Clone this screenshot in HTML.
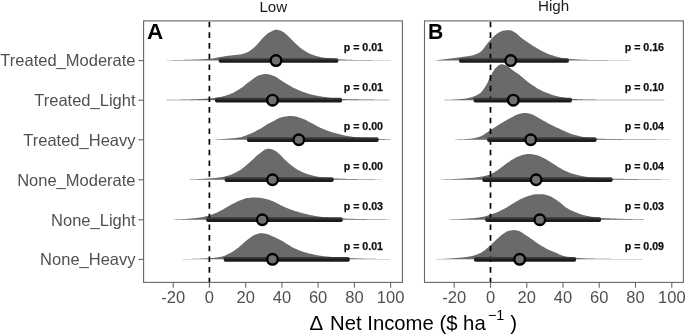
<!DOCTYPE html>
<html><head><meta charset="utf-8"><title>Net Income</title>
<style>html,body{margin:0;padding:0;background:#fff}svg{display:block;filter:grayscale(1)}text{font-family:"Liberation Sans",sans-serif}</style></head><body>
<svg width="685" height="335" viewBox="0 0 685 335">
<rect width="685" height="335" fill="#fff"/>
<defs><linearGradient id="bg" x1="0" y1="0" x2="0" y2="1"><stop offset="0" stop-color="#3e3e3e"/><stop offset="0.4" stop-color="#2e2e2e"/><stop offset="0.55" stop-color="#1b1b1b"/><stop offset="1" stop-color="#1b1b1b"/></linearGradient></defs>
<text x="273.3" y="12.4" font-size="15.15" text-anchor="middle" fill="#1a1a1a">Low</text>
<text x="553.6" y="10.6" font-size="15.15" text-anchor="middle" fill="#1a1a1a">High</text>
<clipPath id="cA"><rect x="143.6" y="20.9" width="258.8" height="261.5"/></clipPath>
<g clip-path="url(#cA)">
<path d="M166.3 60.55 L166.3 60.20 L167.3 60.19 L168.3 60.18 L169.3 60.17 L170.3 60.16 L171.3 60.14 L172.3 60.13 L173.3 60.11 L174.3 60.09 L175.3 60.07 L176.3 60.05 L177.3 60.03 L178.3 60.01 L179.3 59.99 L180.3 59.96 L181.3 59.94 L182.3 59.91 L183.3 59.89 L184.3 59.86 L185.3 59.83 L186.3 59.81 L187.3 59.78 L188.3 59.75 L189.3 59.72 L190.3 59.69 L191.3 59.66 L192.3 59.63 L193.3 59.60 L194.3 59.57 L195.3 59.54 L196.3 59.51 L197.3 59.47 L198.3 59.43 L199.3 59.39 L200.3 59.35 L201.3 59.31 L202.3 59.26 L203.3 59.21 L204.3 59.16 L205.3 59.11 L206.3 59.05 L207.3 58.98 L208.3 58.92 L209.3 58.85 L210.3 58.77 L211.3 58.66 L212.3 58.51 L213.3 58.34 L214.3 58.15 L215.3 57.95 L216.3 57.74 L217.3 57.53 L218.3 57.32 L219.3 57.13 L220.3 56.95 L221.3 56.79 L222.3 56.63 L223.3 56.48 L224.3 56.32 L225.3 56.18 L226.3 56.03 L227.3 55.89 L228.3 55.75 L229.3 55.62 L230.3 55.50 L231.3 55.39 L232.3 55.29 L233.3 55.20 L234.3 55.12 L235.3 55.03 L236.3 54.95 L237.3 54.85 L238.3 54.74 L239.3 54.61 L240.3 54.45 L241.3 54.25 L242.3 54.01 L243.3 53.72 L244.3 53.40 L245.3 53.04 L246.3 52.65 L247.3 52.22 L248.3 51.76 L249.3 51.20 L250.3 50.54 L251.3 49.81 L252.3 49.01 L253.3 48.16 L254.3 47.28 L255.3 46.38 L256.3 45.44 L257.3 44.37 L258.3 43.22 L259.3 42.03 L260.3 40.82 L261.3 39.64 L262.3 38.52 L263.3 37.50 L264.3 36.55 L265.3 35.61 L266.3 34.71 L267.3 33.87 L268.3 33.12 L269.3 32.48 L270.3 31.92 L271.3 31.43 L272.3 30.99 L273.3 30.57 L274.3 30.12 L275.3 29.77 L276.3 29.71 L277.3 29.84 L278.3 30.04 L279.3 30.27 L280.3 30.57 L281.3 30.95 L282.3 31.40 L283.3 31.94 L284.3 32.65 L285.3 33.48 L286.3 34.41 L287.3 35.37 L288.3 36.32 L289.3 37.26 L290.3 38.25 L291.3 39.28 L292.3 40.32 L293.3 41.33 L294.3 42.30 L295.3 43.24 L296.3 44.18 L297.3 45.12 L298.3 46.03 L299.3 46.91 L300.3 47.75 L301.3 48.53 L302.3 49.24 L303.3 49.91 L304.3 50.56 L305.3 51.19 L306.3 51.79 L307.3 52.37 L308.3 52.91 L309.3 53.41 L310.3 53.88 L311.3 54.30 L312.3 54.69 L313.3 55.06 L314.3 55.41 L315.3 55.74 L316.3 56.06 L317.3 56.35 L318.3 56.62 L319.3 56.87 L320.3 57.08 L321.3 57.27 L322.3 57.42 L323.3 57.56 L324.3 57.69 L325.3 57.81 L326.3 57.91 L327.3 58.01 L328.3 58.11 L329.3 58.21 L330.3 58.31 L331.3 58.41 L332.3 58.52 L333.3 58.64 L334.3 58.76 L335.3 58.88 L336.3 59.00 L337.3 59.11 L338.3 59.21 L339.3 59.29 L340.3 59.37 L341.3 59.42 L342.3 59.47 L343.3 59.52 L344.3 59.56 L345.3 59.61 L346.3 59.65 L347.3 59.69 L348.3 59.72 L349.3 59.76 L350.3 59.79 L351.3 59.82 L352.3 59.85 L353.3 59.88 L354.3 59.90 L355.3 59.92 L356.3 59.94 L357.3 59.96 L358.3 59.98 L359.3 59.99 L360.3 60.00 L361.3 60.01 L362.3 60.03 L363.3 60.04 L364.3 60.05 L365.3 60.06 L366.3 60.07 L367.3 60.08 L368.3 60.09 L369.3 60.09 L370.3 60.10 L371.3 60.11 L372.3 60.12 L373.3 60.13 L374.3 60.14 L375.3 60.14 L376.3 60.15 L377.3 60.16 L378.3 60.16 L379.3 60.17 L380.3 60.17 L381.3 60.18 L382.3 60.18 L383.3 60.19 L384.3 60.19 L385.3 60.19 L386.3 60.19 L387.3 60.20 L388.3 60.20 L389.3 60.20 L390.3 60.20 L390.3 60.55 Z" fill="#6a6a6a"/>
<path d="M166.3 100.15 L166.3 99.80 L167.3 99.80 L168.3 99.80 L169.3 99.79 L170.3 99.78 L171.3 99.78 L172.3 99.76 L173.3 99.75 L174.3 99.74 L175.3 99.72 L176.3 99.71 L177.3 99.69 L178.3 99.67 L179.3 99.65 L180.3 99.63 L181.3 99.61 L182.3 99.59 L183.3 99.57 L184.3 99.54 L185.3 99.52 L186.3 99.49 L187.3 99.47 L188.3 99.44 L189.3 99.42 L190.3 99.39 L191.3 99.37 L192.3 99.34 L193.3 99.31 L194.3 99.27 L195.3 99.24 L196.3 99.20 L197.3 99.16 L198.3 99.12 L199.3 99.07 L200.3 99.03 L201.3 98.98 L202.3 98.92 L203.3 98.87 L204.3 98.81 L205.3 98.75 L206.3 98.69 L207.3 98.62 L208.3 98.55 L209.3 98.48 L210.3 98.39 L211.3 98.30 L212.3 98.19 L213.3 98.07 L214.3 97.94 L215.3 97.80 L216.3 97.65 L217.3 97.49 L218.3 97.32 L219.3 97.14 L220.3 96.96 L221.3 96.76 L222.3 96.54 L223.3 96.29 L224.3 96.02 L225.3 95.73 L226.3 95.42 L227.3 95.09 L228.3 94.74 L229.3 94.38 L230.3 94.00 L231.3 93.60 L232.3 93.15 L233.3 92.67 L234.3 92.16 L235.3 91.62 L236.3 91.05 L237.3 90.46 L238.3 89.86 L239.3 89.24 L240.3 88.61 L241.3 87.93 L242.3 87.20 L243.3 86.42 L244.3 85.63 L245.3 84.81 L246.3 84.00 L247.3 83.20 L248.3 82.42 L249.3 81.68 L250.3 80.97 L251.3 80.24 L252.3 79.49 L253.3 78.73 L254.3 78.00 L255.3 77.30 L256.3 76.66 L257.3 76.08 L258.3 75.60 L259.3 75.23 L260.3 74.93 L261.3 74.64 L262.3 74.38 L263.3 74.18 L264.3 74.04 L265.3 74.00 L266.3 74.05 L267.3 74.16 L268.3 74.33 L269.3 74.55 L270.3 74.81 L271.3 75.09 L272.3 75.39 L273.3 75.70 L274.3 76.09 L275.3 76.58 L276.3 77.15 L277.3 77.77 L278.3 78.44 L279.3 79.14 L280.3 79.83 L281.3 80.51 L282.3 81.16 L283.3 81.76 L284.3 82.38 L285.3 83.00 L286.3 83.63 L287.3 84.25 L288.3 84.87 L289.3 85.47 L290.3 86.06 L291.3 86.62 L292.3 87.15 L293.3 87.65 L294.3 88.14 L295.3 88.62 L296.3 89.09 L297.3 89.54 L298.3 89.98 L299.3 90.40 L300.3 90.81 L301.3 91.20 L302.3 91.57 L303.3 91.94 L304.3 92.30 L305.3 92.65 L306.3 92.99 L307.3 93.32 L308.3 93.63 L309.3 93.93 L310.3 94.21 L311.3 94.48 L312.3 94.72 L313.3 94.95 L314.3 95.17 L315.3 95.38 L316.3 95.58 L317.3 95.77 L318.3 95.95 L319.3 96.13 L320.3 96.30 L321.3 96.47 L322.3 96.63 L323.3 96.79 L324.3 96.95 L325.3 97.10 L326.3 97.25 L327.3 97.39 L328.3 97.53 L329.3 97.66 L330.3 97.79 L331.3 97.91 L332.3 98.03 L333.3 98.16 L334.3 98.28 L335.3 98.40 L336.3 98.52 L337.3 98.63 L338.3 98.72 L339.3 98.80 L340.3 98.87 L341.3 98.92 L342.3 98.96 L343.3 99.00 L344.3 99.04 L345.3 99.07 L346.3 99.10 L347.3 99.13 L348.3 99.16 L349.3 99.18 L350.3 99.21 L351.3 99.23 L352.3 99.25 L353.3 99.27 L354.3 99.29 L355.3 99.31 L356.3 99.33 L357.3 99.35 L358.3 99.37 L359.3 99.39 L360.3 99.41 L361.3 99.42 L362.3 99.44 L363.3 99.46 L364.3 99.48 L365.3 99.49 L366.3 99.51 L367.3 99.53 L368.3 99.55 L369.3 99.56 L370.3 99.58 L371.3 99.59 L372.3 99.61 L373.3 99.62 L374.3 99.64 L375.3 99.65 L376.3 99.67 L377.3 99.68 L378.3 99.69 L379.3 99.71 L380.3 99.72 L381.3 99.73 L382.3 99.74 L383.3 99.75 L384.3 99.76 L385.3 99.77 L386.3 99.78 L387.3 99.79 L388.3 99.79 L389.3 99.80 L389.3 100.15 Z" fill="#6a6a6a"/>
<path d="M214.8 139.75 L214.8 139.40 L215.8 139.38 L216.8 139.35 L217.8 139.32 L218.8 139.27 L219.8 139.23 L220.8 139.18 L221.8 139.12 L222.8 139.06 L223.8 138.99 L224.8 138.92 L225.8 138.85 L226.8 138.78 L227.8 138.70 L228.8 138.62 L229.8 138.54 L230.8 138.46 L231.8 138.37 L232.8 138.28 L233.8 138.17 L234.8 138.06 L235.8 137.94 L236.8 137.81 L237.8 137.66 L238.8 137.51 L239.8 137.34 L240.8 137.14 L241.8 136.89 L242.8 136.61 L243.8 136.29 L244.8 135.94 L245.8 135.56 L246.8 135.17 L247.8 134.77 L248.8 134.36 L249.8 133.96 L250.8 133.54 L251.8 133.10 L252.8 132.63 L253.8 132.15 L254.8 131.65 L255.8 131.13 L256.8 130.60 L257.8 130.07 L258.8 129.53 L259.8 128.98 L260.8 128.40 L261.8 127.79 L262.8 127.16 L263.8 126.52 L264.8 125.88 L265.8 125.24 L266.8 124.62 L267.8 124.03 L268.8 123.46 L269.8 122.94 L270.8 122.45 L271.8 121.98 L272.8 121.50 L273.8 120.98 L274.8 120.42 L275.8 119.83 L276.8 119.25 L277.8 118.69 L278.8 118.20 L279.8 117.79 L280.8 117.50 L281.8 117.28 L282.8 117.06 L283.8 116.86 L284.8 116.67 L285.8 116.50 L286.8 116.35 L287.8 116.22 L288.8 116.12 L289.8 116.05 L290.8 116.01 L291.8 116.01 L292.8 116.07 L293.8 116.19 L294.8 116.36 L295.8 116.58 L296.8 116.84 L297.8 117.12 L298.8 117.43 L299.8 117.75 L300.8 118.08 L301.8 118.40 L302.8 118.74 L303.8 119.14 L304.8 119.59 L305.8 120.08 L306.8 120.60 L307.8 121.14 L308.8 121.70 L309.8 122.25 L310.8 122.78 L311.8 123.30 L312.8 123.81 L313.8 124.32 L314.8 124.85 L315.8 125.38 L316.8 125.90 L317.8 126.42 L318.8 126.92 L319.8 127.41 L320.8 127.88 L321.8 128.33 L322.8 128.77 L323.8 129.20 L324.8 129.62 L325.8 130.03 L326.8 130.43 L327.8 130.81 L328.8 131.18 L329.8 131.54 L330.8 131.87 L331.8 132.19 L332.8 132.49 L333.8 132.79 L334.8 133.07 L335.8 133.34 L336.8 133.61 L337.8 133.86 L338.8 134.11 L339.8 134.35 L340.8 134.58 L341.8 134.80 L342.8 135.02 L343.8 135.24 L344.8 135.45 L345.8 135.65 L346.8 135.85 L347.8 136.03 L348.8 136.21 L349.8 136.37 L350.8 136.53 L351.8 136.68 L352.8 136.82 L353.8 136.95 L354.8 137.08 L355.8 137.21 L356.8 137.32 L357.8 137.44 L358.8 137.55 L359.8 137.65 L360.8 137.75 L361.8 137.85 L362.8 137.94 L363.8 138.03 L364.8 138.12 L365.8 138.21 L366.8 138.29 L367.8 138.36 L368.8 138.43 L369.8 138.49 L370.8 138.54 L371.8 138.59 L372.8 138.63 L373.8 138.67 L374.8 138.71 L375.8 138.75 L376.8 138.79 L377.8 138.82 L378.8 138.86 L379.8 138.90 L380.8 138.95 L381.8 138.99 L382.8 139.03 L383.8 139.08 L384.8 139.12 L385.8 139.17 L386.8 139.21 L387.8 139.25 L388.8 139.30 L389.8 139.35 L390.8 139.39 L390.8 139.75 Z" fill="#6a6a6a"/>
<path d="M189.6 179.75 L189.6 179.40 L190.6 179.37 L191.6 179.34 L192.6 179.31 L193.6 179.27 L194.6 179.23 L195.6 179.19 L196.6 179.14 L197.6 179.10 L198.6 179.04 L199.6 178.99 L200.6 178.93 L201.6 178.88 L202.6 178.82 L203.6 178.76 L204.6 178.69 L205.6 178.63 L206.6 178.56 L207.6 178.50 L208.6 178.43 L209.6 178.36 L210.6 178.29 L211.6 178.21 L212.6 178.14 L213.6 178.06 L214.6 177.97 L215.6 177.88 L216.6 177.78 L217.6 177.67 L218.6 177.56 L219.6 177.43 L220.6 177.30 L221.6 177.15 L222.6 176.97 L223.6 176.77 L224.6 176.54 L225.6 176.29 L226.6 176.03 L227.6 175.74 L228.6 175.44 L229.6 175.13 L230.6 174.80 L231.6 174.44 L232.6 174.03 L233.6 173.59 L234.6 173.12 L235.6 172.61 L236.6 172.08 L237.6 171.52 L238.6 170.94 L239.6 170.34 L240.6 169.72 L241.6 169.04 L242.6 168.30 L243.6 167.51 L244.6 166.69 L245.6 165.85 L246.6 164.98 L247.6 164.11 L248.6 163.24 L249.6 162.38 L250.6 161.51 L251.6 160.59 L252.6 159.64 L253.6 158.68 L254.6 157.71 L255.6 156.76 L256.6 155.85 L257.6 154.98 L258.6 154.18 L259.6 153.46 L260.6 152.73 L261.6 151.97 L262.6 151.22 L263.6 150.50 L264.6 149.86 L265.6 149.33 L266.6 148.94 L267.6 148.73 L268.6 148.71 L269.6 148.83 L270.6 149.02 L271.6 149.28 L272.6 149.58 L273.6 149.92 L274.6 150.43 L275.6 151.08 L276.6 151.82 L277.6 152.62 L278.6 153.44 L279.6 154.29 L280.6 155.26 L281.6 156.30 L282.6 157.37 L283.6 158.42 L284.6 159.40 L285.6 160.34 L286.6 161.27 L287.6 162.20 L288.6 163.10 L289.6 163.98 L290.6 164.82 L291.6 165.61 L292.6 166.34 L293.6 167.05 L294.6 167.73 L295.6 168.40 L296.6 169.04 L297.6 169.65 L298.6 170.24 L299.6 170.79 L300.6 171.30 L301.6 171.78 L302.6 172.21 L303.6 172.63 L304.6 173.02 L305.6 173.39 L306.6 173.75 L307.6 174.08 L308.6 174.40 L309.6 174.70 L310.6 174.98 L311.6 175.25 L312.6 175.50 L313.6 175.75 L314.6 175.99 L315.6 176.23 L316.6 176.45 L317.6 176.65 L318.6 176.84 L319.6 177.02 L320.6 177.18 L321.6 177.31 L322.6 177.44 L323.6 177.55 L324.6 177.66 L325.6 177.76 L326.6 177.86 L327.6 177.94 L328.6 178.02 L329.6 178.10 L330.6 178.16 L331.6 178.22 L332.6 178.28 L333.6 178.34 L334.6 178.39 L335.6 178.45 L336.6 178.50 L337.6 178.55 L338.6 178.59 L339.6 178.64 L340.6 178.68 L341.6 178.72 L342.6 178.76 L343.6 178.80 L344.6 178.84 L345.6 178.87 L346.6 178.90 L347.6 178.93 L348.6 178.95 L349.6 178.98 L350.6 179.00 L351.6 179.02 L352.6 179.04 L353.6 179.06 L354.6 179.08 L355.6 179.10 L356.6 179.12 L357.6 179.14 L358.6 179.16 L359.6 179.17 L360.6 179.19 L361.6 179.21 L362.6 179.23 L363.6 179.24 L364.6 179.26 L365.6 179.27 L366.6 179.29 L367.6 179.30 L368.6 179.31 L369.6 179.32 L370.6 179.34 L371.6 179.35 L372.6 179.36 L373.6 179.36 L374.6 179.37 L375.6 179.38 L376.6 179.39 L377.6 179.39 L378.6 179.39 L379.6 179.40 L380.6 179.40 L381.6 179.40 L381.6 179.75 Z" fill="#6a6a6a"/>
<path d="M174.0 219.75 L174.0 219.40 L175.0 219.39 L176.0 219.36 L177.0 219.34 L178.0 219.30 L179.0 219.27 L180.0 219.22 L181.0 219.17 L182.0 219.12 L183.0 219.06 L184.0 219.01 L185.0 218.94 L186.0 218.88 L187.0 218.81 L188.0 218.74 L189.0 218.67 L190.0 218.60 L191.0 218.52 L192.0 218.44 L193.0 218.35 L194.0 218.25 L195.0 218.14 L196.0 218.03 L197.0 217.90 L198.0 217.77 L199.0 217.63 L200.0 217.49 L201.0 217.33 L202.0 217.17 L203.0 216.98 L204.0 216.77 L205.0 216.54 L206.0 216.30 L207.0 216.04 L208.0 215.77 L209.0 215.48 L210.0 215.18 L211.0 214.87 L212.0 214.53 L213.0 214.16 L214.0 213.77 L215.0 213.34 L216.0 212.90 L217.0 212.44 L218.0 211.97 L219.0 211.48 L220.0 210.99 L221.0 210.50 L222.0 209.98 L223.0 209.43 L224.0 208.85 L225.0 208.26 L226.0 207.67 L227.0 207.07 L228.0 206.48 L229.0 205.91 L230.0 205.36 L231.0 204.83 L232.0 204.29 L233.0 203.75 L234.0 203.22 L235.0 202.69 L236.0 202.18 L237.0 201.69 L238.0 201.23 L239.0 200.80 L240.0 200.40 L241.0 200.02 L242.0 199.63 L243.0 199.26 L244.0 198.90 L245.0 198.59 L246.0 198.32 L247.0 198.11 L248.0 197.98 L249.0 197.88 L250.0 197.78 L251.0 197.70 L252.0 197.62 L253.0 197.57 L254.0 197.52 L255.0 197.50 L256.0 197.51 L257.0 197.55 L258.0 197.63 L259.0 197.74 L260.0 197.87 L261.0 198.02 L262.0 198.19 L263.0 198.35 L264.0 198.52 L265.0 198.73 L266.0 198.98 L267.0 199.25 L268.0 199.55 L269.0 199.87 L270.0 200.21 L271.0 200.56 L272.0 200.93 L273.0 201.30 L274.0 201.71 L275.0 202.17 L276.0 202.67 L277.0 203.20 L278.0 203.75 L279.0 204.30 L280.0 204.85 L281.0 205.38 L282.0 205.87 L283.0 206.33 L284.0 206.78 L285.0 207.21 L286.0 207.64 L287.0 208.05 L288.0 208.46 L289.0 208.85 L290.0 209.24 L291.0 209.61 L292.0 209.96 L293.0 210.30 L294.0 210.64 L295.0 210.96 L296.0 211.27 L297.0 211.57 L298.0 211.87 L299.0 212.15 L300.0 212.43 L301.0 212.71 L302.0 212.97 L303.0 213.24 L304.0 213.50 L305.0 213.75 L306.0 214.00 L307.0 214.25 L308.0 214.48 L309.0 214.71 L310.0 214.93 L311.0 215.14 L312.0 215.34 L313.0 215.53 L314.0 215.72 L315.0 215.90 L316.0 216.08 L317.0 216.25 L318.0 216.41 L319.0 216.57 L320.0 216.71 L321.0 216.84 L322.0 216.96 L323.0 217.07 L324.0 217.18 L325.0 217.28 L326.0 217.37 L327.0 217.46 L328.0 217.55 L329.0 217.63 L330.0 217.71 L331.0 217.79 L332.0 217.86 L333.0 217.93 L334.0 218.00 L335.0 218.07 L336.0 218.13 L337.0 218.20 L338.0 218.26 L339.0 218.31 L340.0 218.36 L341.0 218.40 L342.0 218.45 L343.0 218.49 L344.0 218.53 L345.0 218.57 L346.0 218.60 L347.0 218.64 L348.0 218.67 L349.0 218.71 L350.0 218.74 L351.0 218.77 L352.0 218.80 L353.0 218.83 L354.0 218.86 L355.0 218.88 L356.0 218.91 L357.0 218.93 L358.0 218.95 L359.0 218.97 L360.0 218.99 L361.0 219.01 L362.0 219.03 L363.0 219.05 L364.0 219.07 L365.0 219.09 L366.0 219.11 L367.0 219.13 L368.0 219.14 L369.0 219.16 L370.0 219.18 L371.0 219.19 L372.0 219.21 L373.0 219.23 L374.0 219.24 L375.0 219.26 L376.0 219.27 L377.0 219.29 L378.0 219.30 L379.0 219.31 L380.0 219.32 L381.0 219.33 L382.0 219.35 L383.0 219.35 L384.0 219.36 L385.0 219.37 L386.0 219.38 L387.0 219.39 L388.0 219.39 L389.0 219.40 L390.0 219.40 L390.0 219.75 Z" fill="#6a6a6a"/>
<path d="M182.8 259.35 L182.8 259.00 L183.8 259.00 L184.8 258.99 L185.8 258.99 L186.8 258.98 L187.8 258.96 L188.8 258.95 L189.8 258.93 L190.8 258.91 L191.8 258.89 L192.8 258.86 L193.8 258.83 L194.8 258.80 L195.8 258.77 L196.8 258.74 L197.8 258.70 L198.8 258.67 L199.8 258.63 L200.8 258.59 L201.8 258.54 L202.8 258.50 L203.8 258.46 L204.8 258.41 L205.8 258.36 L206.8 258.31 L207.8 258.26 L208.8 258.21 L209.8 258.16 L210.8 258.09 L211.8 258.02 L212.8 257.93 L213.8 257.84 L214.8 257.73 L215.8 257.62 L216.8 257.49 L217.8 257.35 L218.8 257.20 L219.8 257.04 L220.8 256.86 L221.8 256.64 L222.8 256.35 L223.8 256.01 L224.8 255.63 L225.8 255.20 L226.8 254.74 L227.8 254.26 L228.8 253.76 L229.8 253.26 L230.8 252.74 L231.8 252.17 L232.8 251.55 L233.8 250.88 L234.8 250.18 L235.8 249.45 L236.8 248.69 L237.8 247.92 L238.8 247.14 L239.8 246.36 L240.8 245.55 L241.8 244.68 L242.8 243.77 L243.8 242.84 L244.8 241.92 L245.8 241.02 L246.8 240.17 L247.8 239.40 L248.8 238.67 L249.8 237.93 L250.8 237.21 L251.8 236.53 L252.8 235.89 L253.8 235.33 L254.8 234.86 L255.8 234.50 L256.8 234.16 L257.8 233.84 L258.8 233.56 L259.8 233.35 L260.8 233.22 L261.8 233.21 L262.8 233.26 L263.8 233.38 L264.8 233.53 L265.8 233.71 L266.8 233.92 L267.8 234.15 L268.8 234.49 L269.8 234.93 L270.8 235.41 L271.8 235.92 L272.8 236.41 L273.8 236.87 L274.8 237.33 L275.8 237.80 L276.8 238.28 L277.8 238.77 L278.8 239.26 L279.8 239.77 L280.8 240.29 L281.8 240.81 L282.8 241.35 L283.8 241.93 L284.8 242.53 L285.8 243.16 L286.8 243.81 L287.8 244.46 L288.8 245.10 L289.8 245.73 L290.8 246.33 L291.8 246.89 L292.8 247.40 L293.8 247.90 L294.8 248.38 L295.8 248.85 L296.8 249.30 L297.8 249.74 L298.8 250.16 L299.8 250.56 L300.8 250.94 L301.8 251.30 L302.8 251.63 L303.8 251.96 L304.8 252.27 L305.8 252.56 L306.8 252.85 L307.8 253.12 L308.8 253.38 L309.8 253.63 L310.8 253.87 L311.8 254.10 L312.8 254.32 L313.8 254.54 L314.8 254.74 L315.8 254.94 L316.8 255.14 L317.8 255.32 L318.8 255.49 L319.8 255.65 L320.8 255.80 L321.8 255.94 L322.8 256.07 L323.8 256.18 L324.8 256.30 L325.8 256.40 L326.8 256.50 L327.8 256.60 L328.8 256.69 L329.8 256.78 L330.8 256.87 L331.8 256.95 L332.8 257.03 L333.8 257.11 L334.8 257.18 L335.8 257.25 L336.8 257.32 L337.8 257.39 L338.8 257.46 L339.8 257.53 L340.8 257.59 L341.8 257.66 L342.8 257.73 L343.8 257.80 L344.8 257.87 L345.8 257.94 L346.8 258.01 L347.8 258.07 L348.8 258.12 L349.8 258.17 L350.8 258.21 L351.8 258.24 L352.8 258.27 L353.8 258.31 L354.8 258.34 L355.8 258.37 L356.8 258.40 L357.8 258.43 L358.8 258.46 L359.8 258.49 L360.8 258.52 L361.8 258.55 L362.8 258.58 L363.8 258.61 L364.8 258.63 L365.8 258.66 L366.8 258.68 L367.8 258.71 L368.8 258.73 L369.8 258.75 L370.8 258.77 L371.8 258.80 L372.8 258.82 L373.8 258.84 L374.8 258.85 L375.8 258.87 L376.8 258.89 L377.8 258.90 L378.8 258.92 L379.8 258.93 L380.8 258.94 L381.8 258.95 L382.8 258.96 L383.8 258.97 L384.8 258.98 L385.8 258.99 L386.8 258.99 L387.8 259.00 L388.8 259.00 L389.8 259.00 L389.8 259.35 Z" fill="#6a6a6a"/>
<line x1="209.4" y1="20.9" x2="209.4" y2="282.4" stroke="#000" stroke-width="1.7" stroke-dasharray="5.6 5.07" stroke-dashoffset="-0.8"/>
<rect x="218.8" y="58.15" width="119.4" height="4.7" rx="1.7" fill="url(#bg)"/>
<rect x="215.0" y="97.75" width="127.1" height="4.7" rx="1.7" fill="url(#bg)"/>
<rect x="247.0" y="137.35" width="131.6" height="4.7" rx="1.7" fill="url(#bg)"/>
<rect x="224.7" y="177.35" width="108.9" height="4.7" rx="1.7" fill="url(#bg)"/>
<rect x="206.2" y="217.35" width="136.5" height="4.7" rx="1.7" fill="url(#bg)"/>
<rect x="223.7" y="256.95" width="126.1" height="4.7" rx="1.7" fill="url(#bg)"/>
<circle cx="276.0" cy="60.55" r="5.3" fill="#707070" stroke="#000" stroke-width="2.4"/>
<circle cx="272.5" cy="100.15" r="5.3" fill="#707070" stroke="#000" stroke-width="2.4"/>
<circle cx="298.8" cy="139.75" r="5.3" fill="#707070" stroke="#000" stroke-width="2.4"/>
<circle cx="272.5" cy="179.75" r="5.3" fill="#707070" stroke="#000" stroke-width="2.4"/>
<circle cx="262.3" cy="219.75" r="5.3" fill="#707070" stroke="#000" stroke-width="2.4"/>
<circle cx="272.5" cy="259.35" r="5.3" fill="#707070" stroke="#000" stroke-width="2.4"/>
</g>
<text x="343.7" y="50.9" font-size="10.65" font-weight="bold" fill="#111" stroke="#111" stroke-width="0.25">p = 0.01</text>
<text x="343.7" y="90.5" font-size="10.65" font-weight="bold" fill="#111" stroke="#111" stroke-width="0.25">p = 0.01</text>
<text x="343.7" y="130.1" font-size="10.65" font-weight="bold" fill="#111" stroke="#111" stroke-width="0.25">p = 0.00</text>
<text x="343.7" y="170.1" font-size="10.65" font-weight="bold" fill="#111" stroke="#111" stroke-width="0.25">p = 0.00</text>
<text x="343.7" y="210.1" font-size="10.65" font-weight="bold" fill="#111" stroke="#111" stroke-width="0.25">p = 0.03</text>
<text x="343.7" y="249.7" font-size="10.65" font-weight="bold" fill="#111" stroke="#111" stroke-width="0.25">p = 0.01</text>
<text x="147.0" y="38.9" font-size="22.5" font-weight="bold" fill="#000">A</text>
<rect x="143.6" y="20.9" width="258.8" height="261.5" fill="none" stroke="#666" stroke-width="1.1"/>
<line x1="173.2" y1="282.4" x2="173.2" y2="287.8" stroke="#666" stroke-width="1.1"/>
<text x="173.2" y="303.0" font-size="16.5" text-anchor="middle" fill="#505050">-20</text>
<line x1="209.4" y1="282.4" x2="209.4" y2="287.8" stroke="#666" stroke-width="1.1"/>
<text x="209.4" y="303.0" font-size="16.5" text-anchor="middle" fill="#505050">0</text>
<line x1="245.7" y1="282.4" x2="245.7" y2="287.8" stroke="#666" stroke-width="1.1"/>
<text x="245.7" y="303.0" font-size="16.5" text-anchor="middle" fill="#505050">20</text>
<line x1="281.9" y1="282.4" x2="281.9" y2="287.8" stroke="#666" stroke-width="1.1"/>
<text x="281.9" y="303.0" font-size="16.5" text-anchor="middle" fill="#505050">40</text>
<line x1="318.1" y1="282.4" x2="318.1" y2="287.8" stroke="#666" stroke-width="1.1"/>
<text x="318.1" y="303.0" font-size="16.5" text-anchor="middle" fill="#505050">60</text>
<line x1="354.4" y1="282.4" x2="354.4" y2="287.8" stroke="#666" stroke-width="1.1"/>
<text x="354.4" y="303.0" font-size="16.5" text-anchor="middle" fill="#505050">80</text>
<line x1="390.6" y1="282.4" x2="390.6" y2="287.8" stroke="#666" stroke-width="1.1"/>
<text x="390.6" y="303.0" font-size="16.5" text-anchor="middle" fill="#505050">100</text>
<clipPath id="cB"><rect x="424.5" y="20.9" width="258.9" height="261.5"/></clipPath>
<g clip-path="url(#cB)">
<path d="M436.0 60.55 L436.0 60.20 L437.0 60.09 L438.0 59.98 L439.0 59.88 L440.0 59.76 L441.0 59.65 L442.0 59.54 L443.0 59.42 L444.0 59.31 L445.0 59.19 L446.0 59.07 L447.0 58.95 L448.0 58.83 L449.0 58.71 L450.0 58.59 L451.0 58.46 L452.0 58.34 L453.0 58.21 L454.0 58.09 L455.0 57.96 L456.0 57.83 L457.0 57.70 L458.0 57.57 L459.0 57.44 L460.0 57.30 L461.0 57.16 L462.0 57.02 L463.0 56.87 L464.0 56.73 L465.0 56.59 L466.0 56.45 L467.0 56.31 L468.0 56.16 L469.0 56.00 L470.0 55.83 L471.0 55.63 L472.0 55.42 L473.0 55.17 L474.0 54.89 L475.0 54.57 L476.0 54.20 L477.0 53.78 L478.0 53.30 L479.0 52.78 L480.0 52.19 L481.0 51.47 L482.0 50.47 L483.0 49.26 L484.0 47.94 L485.0 46.59 L486.0 45.32 L487.0 44.10 L488.0 42.84 L489.0 41.59 L490.0 40.39 L491.0 39.30 L492.0 38.24 L493.0 37.20 L494.0 36.19 L495.0 35.25 L496.0 34.39 L497.0 33.64 L498.0 33.03 L499.0 32.46 L500.0 31.94 L501.0 31.47 L502.0 31.08 L503.0 30.80 L504.0 30.62 L505.0 30.47 L506.0 30.33 L507.0 30.22 L508.0 30.14 L509.0 30.10 L510.0 30.14 L511.0 30.38 L512.0 30.79 L513.0 31.31 L514.0 31.89 L515.0 32.48 L516.0 33.12 L517.0 33.91 L518.0 34.81 L519.0 35.75 L520.0 36.67 L521.0 37.50 L522.0 38.26 L523.0 39.01 L524.0 39.74 L525.0 40.46 L526.0 41.16 L527.0 41.85 L528.0 42.52 L529.0 43.19 L530.0 43.85 L531.0 44.49 L532.0 45.13 L533.0 45.76 L534.0 46.38 L535.0 46.99 L536.0 47.59 L537.0 48.18 L538.0 48.76 L539.0 49.33 L540.0 49.88 L541.0 50.43 L542.0 50.97 L543.0 51.51 L544.0 52.04 L545.0 52.55 L546.0 53.04 L547.0 53.50 L548.0 53.92 L549.0 54.30 L550.0 54.66 L551.0 55.00 L552.0 55.32 L553.0 55.61 L554.0 55.90 L555.0 56.18 L556.0 56.46 L557.0 56.73 L558.0 57.00 L559.0 57.25 L560.0 57.49 L561.0 57.71 L562.0 57.92 L563.0 58.09 L564.0 58.24 L565.0 58.38 L566.0 58.51 L567.0 58.63 L568.0 58.74 L569.0 58.84 L570.0 58.94 L571.0 59.03 L572.0 59.10 L573.0 59.17 L574.0 59.24 L575.0 59.30 L576.0 59.36 L577.0 59.41 L578.0 59.47 L579.0 59.53 L580.0 59.58 L581.0 59.63 L582.0 59.68 L583.0 59.72 L584.0 59.76 L585.0 59.80 L586.0 59.84 L587.0 59.87 L588.0 59.90 L589.0 59.93 L590.0 59.96 L591.0 59.97 L592.0 59.99 L593.0 60.00 L594.0 60.01 L595.0 60.02 L596.0 60.03 L597.0 60.04 L598.0 60.05 L599.0 60.06 L600.0 60.07 L601.0 60.08 L602.0 60.08 L603.0 60.09 L604.0 60.10 L605.0 60.11 L606.0 60.11 L607.0 60.12 L608.0 60.13 L609.0 60.13 L610.0 60.14 L611.0 60.14 L612.0 60.15 L613.0 60.16 L614.0 60.16 L615.0 60.16 L616.0 60.17 L617.0 60.17 L618.0 60.18 L619.0 60.18 L620.0 60.18 L621.0 60.19 L622.0 60.19 L623.0 60.19 L624.0 60.19 L625.0 60.20 L626.0 60.20 L627.0 60.20 L628.0 60.20 L629.0 60.20 L630.0 60.20 L630.0 60.55 Z" fill="#6a6a6a"/>
<path d="M444.4 100.15 L444.4 99.80 L445.4 99.80 L446.4 99.79 L447.4 99.77 L448.4 99.75 L449.4 99.72 L450.4 99.69 L451.4 99.65 L452.4 99.60 L453.4 99.55 L454.4 99.50 L455.4 99.44 L456.4 99.38 L457.4 99.31 L458.4 99.24 L459.4 99.17 L460.4 99.10 L461.4 99.02 L462.4 98.93 L463.4 98.84 L464.4 98.73 L465.4 98.58 L466.4 98.41 L467.4 98.21 L468.4 97.99 L469.4 97.75 L470.4 97.49 L471.4 97.22 L472.4 96.93 L473.4 96.62 L474.4 96.26 L475.4 95.85 L476.4 95.39 L477.4 94.87 L478.4 94.29 L479.4 93.64 L480.4 92.92 L481.4 92.01 L482.4 90.85 L483.4 89.50 L484.4 88.01 L485.4 86.43 L486.4 84.80 L487.4 82.89 L488.4 80.77 L489.4 78.59 L490.4 76.53 L491.4 74.70 L492.4 72.85 L493.4 71.07 L494.4 69.47 L495.4 68.19 L496.4 67.27 L497.4 66.40 L498.4 65.62 L499.4 64.97 L500.4 64.51 L501.4 64.31 L502.4 64.36 L503.4 64.58 L504.4 64.92 L505.4 65.35 L506.4 65.82 L507.4 66.30 L508.4 66.86 L509.4 67.57 L510.4 68.37 L511.4 69.20 L512.4 70.02 L513.4 70.77 L514.4 71.45 L515.4 72.10 L516.4 72.75 L517.4 73.40 L518.4 74.09 L519.4 74.83 L520.4 75.63 L521.4 76.49 L522.4 77.37 L523.4 78.25 L524.4 79.10 L525.4 79.90 L526.4 80.68 L527.4 81.45 L528.4 82.21 L529.4 82.96 L530.4 83.69 L531.4 84.40 L532.4 85.10 L533.4 85.77 L534.4 86.45 L535.4 87.12 L536.4 87.77 L537.4 88.40 L538.4 89.00 L539.4 89.57 L540.4 90.10 L541.4 90.59 L542.4 91.05 L543.4 91.49 L544.4 91.91 L545.4 92.32 L546.4 92.71 L547.4 93.10 L548.4 93.48 L549.4 93.85 L550.4 94.22 L551.4 94.58 L552.4 94.92 L553.4 95.23 L554.4 95.51 L555.4 95.77 L556.4 96.01 L557.4 96.25 L558.4 96.47 L559.4 96.68 L560.4 96.89 L561.4 97.08 L562.4 97.27 L563.4 97.45 L564.4 97.62 L565.4 97.80 L566.4 97.98 L567.4 98.15 L568.4 98.31 L569.4 98.46 L570.4 98.60 L571.4 98.72 L572.4 98.82 L573.4 98.90 L574.4 98.96 L575.4 99.02 L576.4 99.07 L577.4 99.13 L578.4 99.18 L579.4 99.23 L580.4 99.27 L581.4 99.31 L582.4 99.35 L583.4 99.39 L584.4 99.42 L585.4 99.46 L586.4 99.48 L587.4 99.51 L588.4 99.53 L589.4 99.55 L590.4 99.57 L591.4 99.58 L592.4 99.60 L593.4 99.61 L594.4 99.61 L595.4 99.62 L596.4 99.63 L597.4 99.64 L598.4 99.65 L599.4 99.66 L600.4 99.66 L601.4 99.67 L602.4 99.68 L603.4 99.69 L604.4 99.69 L605.4 99.70 L606.4 99.71 L607.4 99.71 L608.4 99.72 L609.4 99.73 L610.4 99.73 L611.4 99.74 L612.4 99.75 L613.4 99.75 L614.4 99.76 L615.4 99.76 L616.4 99.77 L617.4 99.78 L618.4 99.78 L619.4 99.79 L620.4 99.79 L621.4 99.80 L622.4 99.80 L623.4 99.80 L624.4 99.80 L625.4 99.80 L626.4 99.80 L627.4 99.80 L628.4 99.80 L629.4 99.80 L630.4 99.80 L631.4 99.80 L632.4 99.80 L633.4 99.80 L634.4 99.80 L635.4 99.80 L636.4 99.80 L637.4 99.80 L638.4 99.80 L639.4 99.80 L640.4 99.80 L641.4 99.80 L642.4 99.80 L643.4 99.80 L644.4 99.80 L645.4 99.80 L646.4 99.80 L647.4 99.80 L648.4 99.80 L649.4 99.80 L650.4 99.80 L651.4 99.80 L652.4 99.80 L653.4 99.80 L654.4 99.80 L655.4 99.80 L656.4 99.80 L657.4 99.80 L658.4 99.80 L659.4 99.80 L660.4 99.80 L661.4 99.80 L662.4 99.80 L663.4 99.80 L664.4 99.80 L664.4 100.15 Z" fill="#6a6a6a"/>
<path d="M455.0 139.75 L455.0 139.40 L456.0 139.40 L457.0 139.39 L458.0 139.37 L459.0 139.35 L460.0 139.32 L461.0 139.28 L462.0 139.24 L463.0 139.19 L464.0 139.14 L465.0 139.08 L466.0 139.02 L467.0 138.95 L468.0 138.88 L469.0 138.80 L470.0 138.72 L471.0 138.64 L472.0 138.55 L473.0 138.45 L474.0 138.30 L475.0 138.11 L476.0 137.87 L477.0 137.60 L478.0 137.29 L479.0 136.96 L480.0 136.61 L481.0 136.21 L482.0 135.68 L483.0 135.07 L484.0 134.40 L485.0 133.72 L486.0 133.06 L487.0 132.43 L488.0 131.78 L489.0 131.11 L490.0 130.45 L491.0 129.79 L492.0 129.14 L493.0 128.49 L494.0 127.83 L495.0 127.18 L496.0 126.53 L497.0 125.88 L498.0 125.24 L499.0 124.60 L500.0 123.98 L501.0 123.36 L502.0 122.76 L503.0 122.16 L504.0 121.56 L505.0 120.97 L506.0 120.39 L507.0 119.81 L508.0 119.25 L509.0 118.70 L510.0 118.17 L511.0 117.65 L512.0 117.15 L513.0 116.63 L514.0 116.11 L515.0 115.60 L516.0 115.12 L517.0 114.69 L518.0 114.32 L519.0 114.02 L520.0 113.78 L521.0 113.54 L522.0 113.32 L523.0 113.15 L524.0 113.04 L525.0 113.00 L526.0 113.05 L527.0 113.18 L528.0 113.36 L529.0 113.58 L530.0 113.83 L531.0 114.08 L532.0 114.41 L533.0 114.82 L534.0 115.30 L535.0 115.84 L536.0 116.42 L537.0 117.01 L538.0 117.62 L539.0 118.21 L540.0 118.78 L541.0 119.32 L542.0 119.87 L543.0 120.43 L544.0 120.99 L545.0 121.55 L546.0 122.11 L547.0 122.66 L548.0 123.19 L549.0 123.72 L550.0 124.23 L551.0 124.73 L552.0 125.23 L553.0 125.72 L554.0 126.20 L555.0 126.68 L556.0 127.16 L557.0 127.64 L558.0 128.11 L559.0 128.58 L560.0 129.05 L561.0 129.50 L562.0 129.95 L563.0 130.40 L564.0 130.83 L565.0 131.27 L566.0 131.71 L567.0 132.14 L568.0 132.58 L569.0 133.00 L570.0 133.40 L571.0 133.79 L572.0 134.15 L573.0 134.48 L574.0 134.78 L575.0 135.06 L576.0 135.33 L577.0 135.59 L578.0 135.83 L579.0 136.07 L580.0 136.29 L581.0 136.50 L582.0 136.70 L583.0 136.88 L584.0 137.06 L585.0 137.24 L586.0 137.42 L587.0 137.59 L588.0 137.75 L589.0 137.90 L590.0 138.03 L591.0 138.15 L592.0 138.24 L593.0 138.31 L594.0 138.37 L595.0 138.43 L596.0 138.48 L597.0 138.53 L598.0 138.58 L599.0 138.63 L600.0 138.67 L601.0 138.71 L602.0 138.75 L603.0 138.79 L604.0 138.82 L605.0 138.85 L606.0 138.88 L607.0 138.90 L608.0 138.93 L609.0 138.95 L610.0 138.97 L611.0 138.98 L612.0 139.00 L613.0 139.01 L614.0 139.02 L615.0 139.04 L616.0 139.05 L617.0 139.06 L618.0 139.07 L619.0 139.08 L620.0 139.10 L621.0 139.11 L622.0 139.12 L623.0 139.13 L624.0 139.14 L625.0 139.15 L626.0 139.16 L627.0 139.17 L628.0 139.18 L629.0 139.19 L630.0 139.20 L631.0 139.21 L632.0 139.22 L633.0 139.23 L634.0 139.24 L635.0 139.25 L636.0 139.25 L637.0 139.26 L638.0 139.27 L639.0 139.28 L640.0 139.29 L641.0 139.29 L642.0 139.30 L643.0 139.31 L644.0 139.31 L645.0 139.32 L646.0 139.33 L647.0 139.33 L648.0 139.34 L649.0 139.34 L650.0 139.35 L651.0 139.35 L652.0 139.36 L653.0 139.36 L654.0 139.37 L655.0 139.37 L656.0 139.37 L657.0 139.38 L658.0 139.38 L659.0 139.38 L660.0 139.39 L661.0 139.39 L662.0 139.39 L663.0 139.39 L664.0 139.39 L665.0 139.40 L666.0 139.40 L667.0 139.40 L668.0 139.40 L669.0 139.40 L670.0 139.40 L670.0 139.75 Z" fill="#6a6a6a"/>
<path d="M440.5 179.75 L440.5 179.40 L441.5 179.40 L442.5 179.39 L443.5 179.38 L444.5 179.37 L445.5 179.35 L446.5 179.32 L447.5 179.30 L448.5 179.27 L449.5 179.24 L450.5 179.20 L451.5 179.16 L452.5 179.12 L453.5 179.07 L454.5 179.02 L455.5 178.97 L456.5 178.92 L457.5 178.86 L458.5 178.80 L459.5 178.74 L460.5 178.68 L461.5 178.61 L462.5 178.55 L463.5 178.48 L464.5 178.41 L465.5 178.33 L466.5 178.26 L467.5 178.19 L468.5 178.11 L469.5 178.03 L470.5 177.96 L471.5 177.88 L472.5 177.80 L473.5 177.71 L474.5 177.62 L475.5 177.50 L476.5 177.38 L477.5 177.25 L478.5 177.11 L479.5 176.95 L480.5 176.79 L481.5 176.62 L482.5 176.45 L483.5 176.26 L484.5 176.05 L485.5 175.82 L486.5 175.57 L487.5 175.30 L488.5 175.00 L489.5 174.67 L490.5 174.31 L491.5 173.87 L492.5 173.36 L493.5 172.79 L494.5 172.18 L495.5 171.54 L496.5 170.88 L497.5 170.23 L498.5 169.57 L499.5 168.85 L500.5 168.11 L501.5 167.34 L502.5 166.56 L503.5 165.79 L504.5 165.03 L505.5 164.30 L506.5 163.58 L507.5 162.86 L508.5 162.13 L509.5 161.42 L510.5 160.73 L511.5 160.07 L512.5 159.45 L513.5 158.89 L514.5 158.35 L515.5 157.82 L516.5 157.30 L517.5 156.82 L518.5 156.38 L519.5 155.98 L520.5 155.64 L521.5 155.36 L522.5 155.09 L523.5 154.82 L524.5 154.58 L525.5 154.36 L526.5 154.18 L527.5 154.06 L528.5 154.00 L529.5 154.01 L530.5 154.07 L531.5 154.18 L532.5 154.32 L533.5 154.49 L534.5 154.68 L535.5 154.89 L536.5 155.10 L537.5 155.36 L538.5 155.69 L539.5 156.08 L540.5 156.52 L541.5 157.00 L542.5 157.49 L543.5 158.00 L544.5 158.50 L545.5 159.03 L546.5 159.59 L547.5 160.19 L548.5 160.81 L549.5 161.44 L550.5 162.09 L551.5 162.73 L552.5 163.37 L553.5 164.00 L554.5 164.60 L555.5 165.23 L556.5 165.86 L557.5 166.49 L558.5 167.13 L559.5 167.75 L560.5 168.36 L561.5 168.94 L562.5 169.49 L563.5 170.00 L564.5 170.48 L565.5 170.95 L566.5 171.40 L567.5 171.83 L568.5 172.25 L569.5 172.65 L570.5 173.03 L571.5 173.39 L572.5 173.72 L573.5 174.03 L574.5 174.32 L575.5 174.60 L576.5 174.87 L577.5 175.12 L578.5 175.36 L579.5 175.59 L580.5 175.81 L581.5 176.01 L582.5 176.19 L583.5 176.37 L584.5 176.54 L585.5 176.70 L586.5 176.85 L587.5 177.00 L588.5 177.14 L589.5 177.27 L590.5 177.38 L591.5 177.49 L592.5 177.58 L593.5 177.65 L594.5 177.73 L595.5 177.80 L596.5 177.87 L597.5 177.94 L598.5 178.00 L599.5 178.06 L600.5 178.12 L601.5 178.18 L602.5 178.23 L603.5 178.28 L604.5 178.33 L605.5 178.37 L606.5 178.42 L607.5 178.45 L608.5 178.49 L609.5 178.52 L610.5 178.55 L611.5 178.58 L612.5 178.61 L613.5 178.63 L614.5 178.65 L615.5 178.68 L616.5 178.70 L617.5 178.72 L618.5 178.75 L619.5 178.77 L620.5 178.79 L621.5 178.81 L622.5 178.84 L623.5 178.86 L624.5 178.88 L625.5 178.90 L626.5 178.92 L627.5 178.94 L628.5 178.96 L629.5 178.98 L630.5 179.00 L631.5 179.01 L632.5 179.03 L633.5 179.05 L634.5 179.07 L635.5 179.09 L636.5 179.10 L637.5 179.12 L638.5 179.13 L639.5 179.15 L640.5 179.17 L641.5 179.18 L642.5 179.19 L643.5 179.21 L644.5 179.22 L645.5 179.24 L646.5 179.25 L647.5 179.26 L648.5 179.27 L649.5 179.28 L650.5 179.29 L651.5 179.30 L652.5 179.31 L653.5 179.32 L654.5 179.33 L655.5 179.34 L656.5 179.35 L657.5 179.36 L658.5 179.36 L659.5 179.37 L660.5 179.37 L661.5 179.38 L662.5 179.38 L663.5 179.39 L664.5 179.39 L665.5 179.39 L666.5 179.40 L667.5 179.40 L668.5 179.40 L669.5 179.40 L669.5 179.75 Z" fill="#6a6a6a"/>
<path d="M448.3 219.75 L448.3 219.40 L449.3 219.40 L450.3 219.39 L451.3 219.37 L452.3 219.36 L453.3 219.33 L454.3 219.30 L455.3 219.27 L456.3 219.23 L457.3 219.19 L458.3 219.14 L459.3 219.09 L460.3 219.04 L461.3 218.98 L462.3 218.92 L463.3 218.86 L464.3 218.80 L465.3 218.73 L466.3 218.66 L467.3 218.59 L468.3 218.52 L469.3 218.44 L470.3 218.37 L471.3 218.29 L472.3 218.22 L473.3 218.13 L474.3 218.04 L475.3 217.93 L476.3 217.81 L477.3 217.68 L478.3 217.54 L479.3 217.39 L480.3 217.23 L481.3 217.06 L482.3 216.88 L483.3 216.68 L484.3 216.45 L485.3 216.20 L486.3 215.92 L487.3 215.63 L488.3 215.32 L489.3 215.01 L490.3 214.69 L491.3 214.37 L492.3 214.04 L493.3 213.70 L494.3 213.34 L495.3 212.96 L496.3 212.57 L497.3 212.17 L498.3 211.74 L499.3 211.29 L500.3 210.82 L501.3 210.33 L502.3 209.82 L503.3 209.29 L504.3 208.76 L505.3 208.21 L506.3 207.65 L507.3 207.05 L508.3 206.43 L509.3 205.80 L510.3 205.16 L511.3 204.52 L512.3 203.90 L513.3 203.30 L514.3 202.71 L515.3 202.12 L516.3 201.53 L517.3 200.95 L518.3 200.38 L519.3 199.84 L520.3 199.34 L521.3 198.86 L522.3 198.40 L523.3 197.95 L524.3 197.52 L525.3 197.11 L526.3 196.73 L527.3 196.37 L528.3 196.05 L529.3 195.76 L530.3 195.46 L531.3 195.16 L532.3 194.87 L533.3 194.62 L534.3 194.41 L535.3 194.27 L536.3 194.20 L537.3 194.20 L538.3 194.20 L539.3 194.20 L540.3 194.20 L541.3 194.20 L542.3 194.20 L543.3 194.25 L544.3 194.40 L545.3 194.63 L546.3 194.91 L547.3 195.22 L548.3 195.53 L549.3 195.90 L550.3 196.35 L551.3 196.87 L552.3 197.42 L553.3 198.00 L554.3 198.57 L555.3 199.18 L556.3 199.82 L557.3 200.50 L558.3 201.20 L559.3 201.93 L560.3 202.69 L561.3 203.54 L562.3 204.44 L563.3 205.35 L564.3 206.22 L565.3 206.99 L566.3 207.66 L567.3 208.28 L568.3 208.86 L569.3 209.42 L570.3 209.94 L571.3 210.44 L572.3 210.91 L573.3 211.36 L574.3 211.79 L575.3 212.21 L576.3 212.61 L577.3 213.00 L578.3 213.38 L579.3 213.73 L580.3 214.07 L581.3 214.39 L582.3 214.68 L583.3 214.95 L584.3 215.21 L585.3 215.45 L586.3 215.68 L587.3 215.90 L588.3 216.11 L589.3 216.31 L590.3 216.49 L591.3 216.67 L592.3 216.83 L593.3 216.97 L594.3 217.12 L595.3 217.25 L596.3 217.38 L597.3 217.51 L598.3 217.62 L599.3 217.73 L600.3 217.83 L601.3 217.91 L602.3 217.99 L603.3 218.05 L604.3 218.11 L605.3 218.16 L606.3 218.22 L607.3 218.27 L608.3 218.31 L609.3 218.36 L610.3 218.40 L611.3 218.44 L612.3 218.48 L613.3 218.52 L614.3 218.55 L615.3 218.59 L616.3 218.62 L617.3 218.65 L618.3 218.69 L619.3 218.72 L620.3 218.75 L621.3 218.78 L622.3 218.81 L623.3 218.84 L624.3 218.88 L625.3 218.91 L626.3 218.94 L627.3 218.97 L628.3 219.00 L629.3 219.03 L630.3 219.05 L631.3 219.08 L632.3 219.11 L633.3 219.14 L634.3 219.16 L635.3 219.19 L636.3 219.21 L637.3 219.24 L638.3 219.26 L639.3 219.28 L640.3 219.30 L641.3 219.33 L642.3 219.35 L643.3 219.37 L644.3 219.38 L644.3 219.75 Z" fill="#6a6a6a"/>
<path d="M436.0 259.35 L436.0 259.00 L437.0 259.00 L438.0 258.99 L439.0 258.97 L440.0 258.95 L441.0 258.92 L442.0 258.89 L443.0 258.85 L444.0 258.81 L445.0 258.77 L446.0 258.71 L447.0 258.66 L448.0 258.60 L449.0 258.54 L450.0 258.47 L451.0 258.40 L452.0 258.33 L453.0 258.25 L454.0 258.17 L455.0 258.09 L456.0 258.01 L457.0 257.92 L458.0 257.83 L459.0 257.75 L460.0 257.66 L461.0 257.57 L462.0 257.47 L463.0 257.38 L464.0 257.28 L465.0 257.17 L466.0 257.04 L467.0 256.90 L468.0 256.75 L469.0 256.59 L470.0 256.41 L471.0 256.22 L472.0 256.01 L473.0 255.78 L474.0 255.52 L475.0 255.21 L476.0 254.86 L477.0 254.47 L478.0 254.06 L479.0 253.61 L480.0 253.14 L481.0 252.64 L482.0 252.05 L483.0 251.40 L484.0 250.69 L485.0 249.94 L486.0 249.18 L487.0 248.37 L488.0 247.49 L489.0 246.57 L490.0 245.64 L491.0 244.71 L492.0 243.77 L493.0 242.82 L494.0 241.86 L495.0 240.90 L496.0 239.95 L497.0 239.03 L498.0 238.13 L499.0 237.24 L500.0 236.34 L501.0 235.47 L502.0 234.65 L503.0 233.92 L504.0 233.29 L505.0 232.67 L506.0 232.09 L507.0 231.56 L508.0 231.12 L509.0 230.79 L510.0 230.58 L511.0 230.41 L512.0 230.26 L513.0 230.15 L514.0 230.10 L515.0 230.14 L516.0 230.28 L517.0 230.50 L518.0 230.77 L519.0 231.07 L520.0 231.45 L521.0 231.97 L522.0 232.61 L523.0 233.30 L524.0 234.00 L525.0 234.66 L526.0 235.30 L527.0 235.95 L528.0 236.62 L529.0 237.28 L530.0 237.96 L531.0 238.64 L532.0 239.32 L533.0 240.01 L534.0 240.71 L535.0 241.43 L536.0 242.16 L537.0 242.89 L538.0 243.60 L539.0 244.29 L540.0 244.95 L541.0 245.57 L542.0 246.17 L543.0 246.75 L544.0 247.32 L545.0 247.87 L546.0 248.40 L547.0 248.91 L548.0 249.40 L549.0 249.88 L550.0 250.32 L551.0 250.75 L552.0 251.17 L553.0 251.59 L554.0 252.00 L555.0 252.43 L556.0 252.87 L557.0 253.33 L558.0 253.78 L559.0 254.23 L560.0 254.65 L561.0 255.04 L562.0 255.40 L563.0 255.71 L564.0 255.97 L565.0 256.21 L566.0 256.43 L567.0 256.64 L568.0 256.84 L569.0 257.02 L570.0 257.19 L571.0 257.33 L572.0 257.46 L573.0 257.56 L574.0 257.65 L575.0 257.73 L576.0 257.81 L577.0 257.88 L578.0 257.95 L579.0 258.02 L580.0 258.08 L581.0 258.15 L582.0 258.20 L583.0 258.26 L584.0 258.31 L585.0 258.35 L586.0 258.40 L587.0 258.44 L588.0 258.47 L589.0 258.51 L590.0 258.53 L591.0 258.56 L592.0 258.58 L593.0 258.60 L594.0 258.62 L595.0 258.64 L596.0 258.66 L597.0 258.67 L598.0 258.69 L599.0 258.71 L600.0 258.73 L601.0 258.74 L602.0 258.76 L603.0 258.77 L604.0 258.79 L605.0 258.80 L606.0 258.82 L607.0 258.83 L608.0 258.85 L609.0 258.86 L610.0 258.87 L611.0 258.89 L612.0 258.90 L613.0 258.91 L614.0 258.92 L615.0 258.93 L616.0 258.94 L617.0 258.96 L618.0 258.97 L619.0 258.98 L620.0 258.99 L621.0 259.00 L622.0 259.00 L623.0 259.00 L624.0 259.00 L625.0 259.00 L626.0 259.00 L627.0 259.00 L628.0 259.00 L629.0 259.00 L630.0 259.00 L631.0 259.00 L632.0 259.00 L633.0 259.00 L634.0 259.00 L635.0 259.00 L636.0 259.00 L637.0 259.00 L638.0 259.00 L639.0 259.00 L640.0 259.00 L641.0 259.00 L642.0 259.00 L643.0 259.00 L643.0 259.35 Z" fill="#6a6a6a"/>
<line x1="490.5" y1="20.9" x2="490.5" y2="282.4" stroke="#000" stroke-width="1.7" stroke-dasharray="5.6 5.07" stroke-dashoffset="-0.8"/>
<rect x="459.1" y="58.15" width="109.7" height="4.7" rx="1.7" fill="url(#bg)"/>
<rect x="473.6" y="97.75" width="98.3" height="4.7" rx="1.7" fill="url(#bg)"/>
<rect x="487.2" y="137.35" width="109.3" height="4.7" rx="1.7" fill="url(#bg)"/>
<rect x="482.4" y="177.35" width="130.2" height="4.7" rx="1.7" fill="url(#bg)"/>
<rect x="485.3" y="217.35" width="115.7" height="4.7" rx="1.7" fill="url(#bg)"/>
<rect x="474.0" y="256.95" width="102.1" height="4.7" rx="1.7" fill="url(#bg)"/>
<circle cx="510.7" cy="60.55" r="5.3" fill="#707070" stroke="#000" stroke-width="2.4"/>
<circle cx="513.3" cy="100.15" r="5.3" fill="#707070" stroke="#000" stroke-width="2.4"/>
<circle cx="530.7" cy="139.75" r="5.3" fill="#707070" stroke="#000" stroke-width="2.4"/>
<circle cx="536.1" cy="179.75" r="5.3" fill="#707070" stroke="#000" stroke-width="2.4"/>
<circle cx="539.8" cy="219.75" r="5.3" fill="#707070" stroke="#000" stroke-width="2.4"/>
<circle cx="519.7" cy="259.35" r="5.3" fill="#707070" stroke="#000" stroke-width="2.4"/>
</g>
<text x="624.7" y="50.9" font-size="10.65" font-weight="bold" fill="#111" stroke="#111" stroke-width="0.25">p = 0.16</text>
<text x="624.7" y="90.5" font-size="10.65" font-weight="bold" fill="#111" stroke="#111" stroke-width="0.25">p = 0.10</text>
<text x="624.7" y="130.1" font-size="10.65" font-weight="bold" fill="#111" stroke="#111" stroke-width="0.25">p = 0.04</text>
<text x="624.7" y="170.1" font-size="10.65" font-weight="bold" fill="#111" stroke="#111" stroke-width="0.25">p = 0.04</text>
<text x="624.7" y="210.1" font-size="10.65" font-weight="bold" fill="#111" stroke="#111" stroke-width="0.25">p = 0.03</text>
<text x="624.7" y="249.7" font-size="10.65" font-weight="bold" fill="#111" stroke="#111" stroke-width="0.25">p = 0.09</text>
<text transform="translate(427.9 38.9) scale(0.94 1)" font-size="22.5" font-weight="bold" fill="#000">B</text>
<rect x="424.5" y="20.9" width="258.9" height="261.5" fill="none" stroke="#666" stroke-width="1.1"/>
<line x1="454.2" y1="282.4" x2="454.2" y2="287.8" stroke="#666" stroke-width="1.1"/>
<text x="454.2" y="303.0" font-size="16.5" text-anchor="middle" fill="#505050">-20</text>
<line x1="490.5" y1="282.4" x2="490.5" y2="287.8" stroke="#666" stroke-width="1.1"/>
<text x="490.5" y="303.0" font-size="16.5" text-anchor="middle" fill="#505050">0</text>
<line x1="526.8" y1="282.4" x2="526.8" y2="287.8" stroke="#666" stroke-width="1.1"/>
<text x="526.8" y="303.0" font-size="16.5" text-anchor="middle" fill="#505050">20</text>
<line x1="563.0" y1="282.4" x2="563.0" y2="287.8" stroke="#666" stroke-width="1.1"/>
<text x="563.0" y="303.0" font-size="16.5" text-anchor="middle" fill="#505050">40</text>
<line x1="599.2" y1="282.4" x2="599.2" y2="287.8" stroke="#666" stroke-width="1.1"/>
<text x="599.2" y="303.0" font-size="16.5" text-anchor="middle" fill="#505050">60</text>
<line x1="635.5" y1="282.4" x2="635.5" y2="287.8" stroke="#666" stroke-width="1.1"/>
<text x="635.5" y="303.0" font-size="16.5" text-anchor="middle" fill="#505050">80</text>
<line x1="671.8" y1="282.4" x2="671.8" y2="287.8" stroke="#666" stroke-width="1.1"/>
<text x="671.8" y="303.0" font-size="16.5" text-anchor="middle" fill="#505050">100</text>
<line x1="138.5" y1="60.6" x2="143.6" y2="60.6" stroke="#666" stroke-width="1.1"/>
<text x="135.5" y="66.3" font-size="16.5" text-anchor="end" fill="#505050">Treated_Moderate</text>
<line x1="138.5" y1="100.2" x2="143.6" y2="100.2" stroke="#666" stroke-width="1.1"/>
<text x="135.5" y="105.9" font-size="16.5" text-anchor="end" fill="#505050">Treated_Light</text>
<line x1="138.5" y1="139.8" x2="143.6" y2="139.8" stroke="#666" stroke-width="1.1"/>
<text x="135.5" y="145.5" font-size="16.5" text-anchor="end" fill="#505050">Treated_Heavy</text>
<line x1="138.5" y1="179.8" x2="143.6" y2="179.8" stroke="#666" stroke-width="1.1"/>
<text x="135.5" y="185.5" font-size="16.5" text-anchor="end" fill="#505050">None_Moderate</text>
<line x1="138.5" y1="219.8" x2="143.6" y2="219.8" stroke="#666" stroke-width="1.1"/>
<text x="135.5" y="225.5" font-size="16.5" text-anchor="end" fill="#505050">None_Light</text>
<line x1="138.5" y1="259.4" x2="143.6" y2="259.4" stroke="#666" stroke-width="1.1"/>
<text x="135.5" y="265.1" font-size="16.5" text-anchor="end" fill="#505050">None_Heavy</text>
<text x="309.6" y="330.1" font-size="20.5" fill="#000">Δ</text>
<text x="330.1" y="330.1" font-size="20.3" fill="#000">Net Income ($ ha</text>
<text x="488.0" y="320.2" font-size="14.3" fill="#000">−1</text>
<text x="510.3" y="330.1" font-size="20.5" fill="#000">)</text>
</svg></body></html>
